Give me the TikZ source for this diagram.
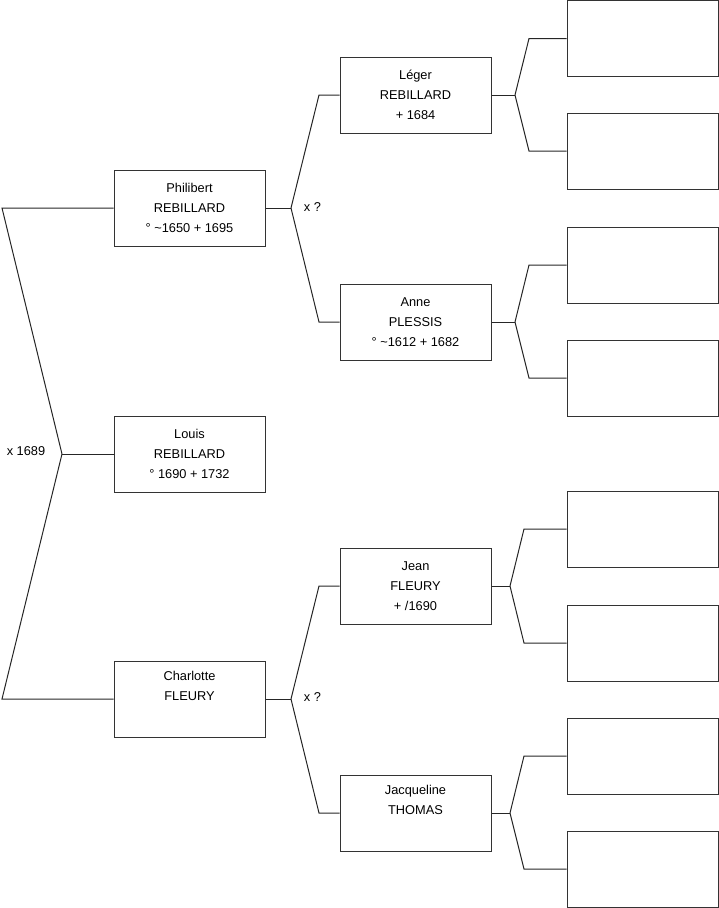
\documentclass[tikz,border=0pt]{standalone}
\usepackage{fontspec}
\setmainfont{Liberation Sans}

\tikzset{
    person/.style={draw=black!80, line width=1pt, minimum width=151pt, minimum height=76pt,
        inner sep=0pt, align=center, font=\fontsize{12.8}{20}\selectfont},
    link/.style={draw=black!85, line width=1pt},
    mariage/.style={font=\fontsize{12.8}{15}\selectfont, inner sep=0pt}
}

\begin{document}
\begin{tikzpicture}[x=1pt, y=-1pt]
    \useasboundingbox (0,0) rectangle (719,908);

    % generation 1 and 2
    \node[person] (louis) at (189.5,454) {Louis\\REBILLARD\\° 1690 + 1732};
    \node[person] (philibert) at (189.5,208) {Philibert\\REBILLARD\\° \textasciitilde1650 + 1695};
    \node[person] (charlotte) at (189.5,699) {Charlotte\\FLEURY\\\strut};

    % generation 3
    \node[person] (leger) at (415.5,95) {Léger\\REBILLARD\\+ 1684};
    \node[person] (anne) at (415.5,322) {Anne\\PLESSIS\\° \textasciitilde1612 + 1682};
    \node[person] (jean) at (415.5,586) {Jean\\FLEURY\\+ /1690};
    \node[person] (jacqueline) at (415.5,813) {Jacqueline\\THOMAS\\\strut};

    % generation 4, unknown
    \node[person] (b1) at (642.5,38.5) {};
    \node[person] (b2) at (642.5,151) {};
    \node[person] (b3) at (642.5,265) {};
    \node[person] (b4) at (642.5,378) {};
    \node[person] (b5) at (642.5,529) {};
    \node[person] (b6) at (642.5,643) {};
    \node[person] (b7) at (642.5,756) {};
    \node[person] (b8) at (642.5,869) {};

    % forks
    \coordinate (f0) at (62,454);
    \coordinate (f1) at (291,208);
    \coordinate (f2) at (291,699);
    \coordinate (f3) at (515,95);
    \coordinate (f4) at (515,322);
    \coordinate (f5) at (510,586);
    \coordinate (f6) at (510,813);

    \draw[link] (louis.west) -- (f0);
    \draw[link] (f0) -- (2,208) -- (philibert.west);
    \draw[link] (f0) -- (2,699) -- (charlotte.west);
    \node[mariage] (m0) at (26,451) {x 1689};

    \draw[link] (philibert.east) -- (f1);
    \draw[link] (f1) -- (319,95) -- (leger.west);
    \draw[link] (f1) -- (319,322) -- (anne.west);
    \node[mariage] (m1) at (312.5,207) {x ?};

    \draw[link] (charlotte.east) -- (f2);
    \draw[link] (f2) -- (319,586) -- (jean.west);
    \draw[link] (f2) -- (319,813) -- (jacqueline.west);
    \node[mariage] (m2) at (312.5,697) {x ?};

    \draw[link] (leger.east) -- (f3);
    \draw[link] (f3) -- (529,38.5) -- (b1.west);
    \draw[link] (f3) -- (529,151) -- (b2.west);

    \draw[link] (anne.east) -- (f4);
    \draw[link] (f4) -- (529,265) -- (b3.west);
    \draw[link] (f4) -- (529,378) -- (b4.west);

    \draw[link] (jean.east) -- (f5);
    \draw[link] (f5) -- (524,529) -- (b5.west);
    \draw[link] (f5) -- (524,643) -- (b6.west);

    \draw[link] (jacqueline.east) -- (f6);
    \draw[link] (f6) -- (524,756) -- (b7.west);
    \draw[link] (f6) -- (524,869) -- (b8.west);
\end{tikzpicture}
\end{document}
